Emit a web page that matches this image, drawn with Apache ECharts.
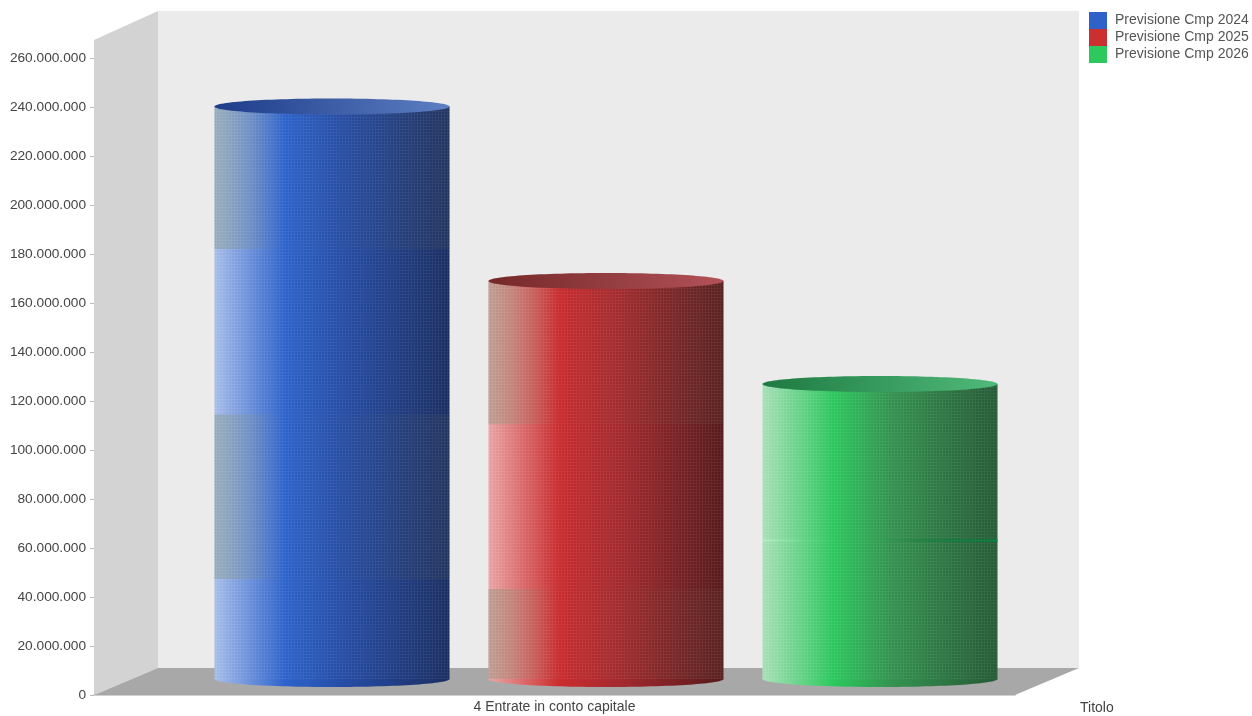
<!DOCTYPE html>
<html>
<head>
<meta charset="utf-8">
<title>Previsione Cmp</title>
<script src="https://cdn.jsdelivr.net/npm/echarts@6/dist/echarts.min.js"></script>
<style>
  html, body { margin: 0; padding: 0; background: #fff; }
  #main { width: 1252px; height: 716px; }
</style>
</head>
<body>
<div id="main"></div>
<script>
// dati
var categories = ['4 Entrate in conto capitale'];
var seriesNames = ['Previsione Cmp 2024', 'Previsione Cmp 2025', 'Previsione Cmp 2026'];
var cmp2024 = [233700000];
var cmp2025 = [162400000];
var cmp2026 = [120400000];
var yMax = 260000000;
var yStep = 20000000;
var wallTop = [267300000];

// fasce di colore sui cilindri, in valori dell'asse
var bands2024 = [[40800000, 108000000], [175500000, 233700000]];
var bands2025 = [[0, 36700000], [104000000, 162400000]];
var bands2026 = [];

var DEPTH_X = 64, DEPTH_Y = 27;   // profondita' del pavimento
var BAR_W = 235 / 921, BAR_GAP = 39 / 921, BAR_SHIFT = 51.5;
var BASE_LIFT = 16, RY = 8;

var palettes = [
  { legend: '#2f62c9', side: ['#aabfec', '#2d63cc', '#264da6', '#1b2e62'], top: ['#1e3c8a', '#5c7ec2'] },
  { legend: '#cc2f30', side: ['#eca6a6', '#cb2c2e', '#a62a2e', '#561a1c'], top: ['#752828', '#b25258'] },
  { legend: '#2dc85e', side: ['#aae2ba', '#2dc95f', '#349350', '#265a36'], top: ['#1e7a42', '#50ba7a'] }
];

function sideFill(c) {
  return { type: 'linear', x: 0, y: 0, x2: 1, y2: 0, colorStops: [
    { offset: 0, color: c[0] }, { offset: 0.3, color: c[1] },
    { offset: 0.55, color: c[2] }, { offset: 1, color: c[3] }
  ] };
}

// trama fine a griglia
var meshCanvas = document.createElement('canvas');
meshCanvas.width = 3; meshCanvas.height = 3;
var mc = meshCanvas.getContext('2d');
mc.fillStyle = 'rgba(255,255,255,0.06)';
mc.fillRect(0, 0, 3, 1);
mc.fillRect(0, 1, 1, 2);
mc.fillStyle = 'rgba(0,0,0,0.025)';
mc.fillRect(1, 1, 2, 2);
var meshFill = { image: meshCanvas, repeat: 'repeat' };

var greyBand = { type: 'linear', x: 0, y: 0, x2: 1, y2: 0, colorStops: [
  { offset: 0, color: 'rgba(130,150,120,0.42)' },
  { offset: 0.14, color: 'rgba(130,150,120,0.22)' },
  { offset: 0.3, color: 'rgba(120,120,100,0)' },
  { offset: 0.6, color: 'rgba(110,110,80,0.03)' },
  { offset: 1, color: 'rgba(110,110,80,0.1)' }
] };
var greenStreak = { type: 'linear', x: 0, y: 0, x2: 1, y2: 0, colorStops: [
  { offset: 0, color: 'rgba(190,255,205,0.4)' },
  { offset: 0.35, color: 'rgba(60,200,100,0)' },
  { offset: 0.65, color: 'rgba(0,120,50,0.3)' },
  { offset: 1, color: 'rgba(0,125,55,0.85)' }
] };

function renderWalls(params, api) {
  var bottom = api.coord([0, 0]);
  var top = api.coord([0, api.value(1)]);
  var half = api.size([1, 0])[0] / 2;
  var x0 = bottom[0] - half, x1 = bottom[0] + half;
  var yb = bottom[1], yt = top[1];
  return {
    type: 'group',
    children: [
      { type: 'polygon', shape: { points: [[x0 + DEPTH_X, yt - 29], [x1 + DEPTH_X, yt - 29], [x1 + DEPTH_X, yb - DEPTH_Y], [x0 + DEPTH_X, yb - DEPTH_Y]] }, style: { fill: '#ebebeb' } },
      { type: 'polygon', shape: { points: [[x0, yt], [x0 + DEPTH_X, yt - 29], [x0 + DEPTH_X, yb - DEPTH_Y], [x0, yb]] }, style: { fill: '#d3d3d3' } },
      { type: 'polygon', shape: { points: [[x0, yb], [x0 + DEPTH_X, yb - DEPTH_Y], [x1 + DEPTH_X, yb - DEPTH_Y], [x1, yb]] }, style: { fill: '#a8a8a8' } }
    ]
  };
}

function makeCylinder(idx, bands) {
  return function (params, api) {
    var pal = palettes[idx];
    var origin = api.coord([api.value(0), 0]);
    var band = api.size([1, 0])[0];
    var w = band * BAR_W;
    var x = origin[0] + BAR_SHIFT - w / 2 + (idx - 1) * (w + band * BAR_GAP);
    var baseY = origin[1] - BASE_LIFT;
    var h = api.size([0, api.value(1)])[1];
    var topY = baseY - h;
    var cx = x + w / 2;
    var fill = sideFill(pal.side);
    var children = [
      { type: 'ellipse', shape: { cx: cx, cy: baseY, rx: w / 2, ry: RY }, style: { fill: fill } },
      { type: 'rect', shape: { x: x, y: topY, width: w, height: h }, style: { fill: fill } }
    ];
    bands.forEach(function (b) {
      var hb = api.size([0, b[1] - b[0]])[1];
      var yb = baseY - api.size([0, b[1]])[1];
      children.push({ type: 'rect', shape: { x: x, y: yb, width: w, height: hb }, style: { fill: greyBand } });
    });
    if (idx === 2) {
      // striscia sottile sul cilindro verde
      children.push({ type: 'rect', shape: { x: x, y: baseY - 140, width: w, height: 3 }, style: { fill: greenStreak } });
    }
    children.push({ type: 'rect', shape: { x: x, y: topY, width: w, height: h }, style: { fill: meshFill } });
    children.push({ type: 'ellipse', shape: { cx: cx, cy: topY, rx: w / 2, ry: RY },
      style: { fill: { type: 'linear', x: 0, y: 0, x2: 1, y2: 0, colorStops: [
        { offset: 0, color: pal.top[0] }, { offset: 1, color: pal.top[1] }
      ] } } });
    return { type: 'group', children: children };
  };
}

function formatTick(v) {
  return String(v).replace(/\B(?=(\d{3})+(?!\d))/g, '.');
}

function cylinderSeries(idx, values, bands) {
  return {
    name: seriesNames[idx],
    type: 'custom',
    z: 3 + idx,
    clip: false,
    itemStyle: { color: palettes[idx].legend },
    data: values.map(function (v, i) { return [i, v]; }),
    encode: { x: 0, y: 1 },
    renderItem: makeCylinder(idx, bands)
  };
}

var myChart = echarts.init(document.getElementById('main'), null, { renderer: 'canvas' });
var option = {
  animation: false,
  backgroundColor: '#fff',
  textStyle: { fontFamily: '"Liberation Sans", Arial, sans-serif' },
  grid: { left: 94, right: 237, top: 58, bottom: 21, containLabel: false, outerBoundsMode: 'none' },
  legend: {
    data: seriesNames,
    orient: 'vertical',
    left: 1089,
    top: 12,
    padding: 0,
    itemWidth: 18,
    itemHeight: 17,
    itemGap: 0,
    icon: 'rect',
    selectedMode: false,
    textStyle: { color: '#555', fontSize: 14, padding: [0, 0, 0, 3] }
  },
  tooltip: { show: false },
  xAxis: {
    type: 'category',
    data: categories,
    name: 'Titolo',
    nameLocation: 'end',
    nameGap: 65,
    nameTextStyle: { color: '#444', fontSize: 14, verticalAlign: 'top', padding: [6, 0, 0, 0] },
    axisLine: { show: true, lineStyle: { color: '#d0d0d0', width: 2 } },
    axisTick: { show: false },
    axisLabel: { color: '#444', fontSize: 14, margin: 5 }
  },
  yAxis: {
    type: 'value',
    min: 0,
    max: yMax,
    interval: yStep,
    axisLine: { show: false },
    axisTick: { show: true, length: 4, lineStyle: { color: '#bbb' } },
    splitLine: { show: false },
    axisLabel: { color: '#444', fontSize: 13.7, margin: 8, formatter: formatTick }
  },
  series: [
    {
      name: 'sfondo',
      type: 'custom',
      z: 1,
      clip: false,
      silent: true,
      data: [[0, wallTop[0]]],
      encode: { x: 0, y: 1 },
      renderItem: renderWalls
    },
    cylinderSeries(0, cmp2024, bands2024),
    cylinderSeries(1, cmp2025, bands2025),
    cylinderSeries(2, cmp2026, bands2026)
  ]
};
myChart.setOption(option);
</script>
</body>
</html>
